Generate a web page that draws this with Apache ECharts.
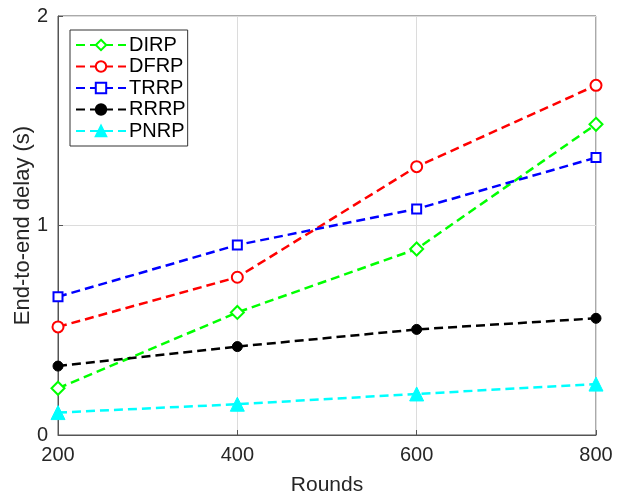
<!DOCTYPE html>
<html><head><meta charset="utf-8">
<script src="https://cdn.jsdelivr.net/npm/echarts@6/dist/echarts.min.js"></script>
<style>html,body{margin:0;padding:0;background:#fff}#c{width:619px;height:495px}</style>
</head><body><div id="c"></div>
<script>
const rounds = [200, 400, 600, 800];
const DIRP = [0.223, 0.585, 0.888, 1.483];
const DFRP = [0.516, 0.753, 1.281, 1.669];
const TRRP = [0.660, 0.907, 1.079, 1.324];
const RRRP = [0.329, 0.422, 0.504, 0.557];
const PNRP = [0.107, 0.147, 0.196, 0.243];
const yTicks = [0, 1, 2];

const chart = echarts.init(document.getElementById('c'));
const font = 'Liberation Sans, Arial, Helvetica, sans-serif';
function mk(name, data, color, symbol, size, filled) {
  return {
    name, type: 'line',
    data: rounds.map((r, i) => [r, data[i]]),
    symbol, symbolSize: size,
    lineStyle: { color, width: 2.5, type: [9, 5] },
    itemStyle: filled ? { color, borderColor: color, borderWidth: 1 } : { color: color, borderColor: color, borderWidth: 2.2 },
    color,
    animation: false, z: 3
  };
}
chart.setOption({
  animation: false,
  backgroundColor: '#fff',
  grid: { left: 58, right: 23, top: 16, bottom: 60, containLabel: false, outerBoundsMode: 'none', show: true, borderColor: '#555', borderWidth: 1 },
  xAxis: {
    type: 'value', min: 200, max: 800, interval: 200,
    name: 'Rounds', nameLocation: 'middle', nameGap: 40, nameMoveOverlap: false,
    nameTextStyle: { fontFamily: font, fontSize: 21, color: '#262626' },
    axisLine: { lineStyle: { color: '#555' } },
    axisTick: { inside: true, length: 5, lineStyle: { color: '#555' } },
    axisLabel: { fontFamily: font, fontSize: 20, color: '#262626', margin: 10 },
    splitLine: { show: true, lineStyle: { color: '#dcdcdc' } }
  },
  yAxis: {
    type: 'value', min: 0, max: 2, interval: 1,
    name: 'End-to-end delay (s)', nameLocation: 'middle', nameGap: 24, nameMoveOverlap: false,
    nameTextStyle: { fontFamily: font, fontSize: 22, color: '#262626' },
    axisLine: { show: true, lineStyle: { color: '#555' } },
    axisTick: { show: true, inside: true, length: 5, lineStyle: { color: '#555' } },
    axisLabel: { fontFamily: font, fontSize: 20, color: '#262626', margin: 10, formatter: v => yTicks.includes(v) ? String(v) : '' },
    splitLine: { show: true, lineStyle: { color: '#dcdcdc' } }
  },
  legend: {
    orient: 'vertical', left: 70, top: 30,
    backgroundColor: '#fff', borderColor: '#333', borderWidth: 1,
    padding: [5, 2, 5, 5], itemGap: 1.5, itemWidth: 50, itemHeight: 13,
    textStyle: { fontFamily: font, fontSize: 20, color: '#000', padding: [0, 0, 0, -2] },
    data: ['DIRP', 'DFRP', 'TRRP', 'RRRP', 'PNRP']
  },
  series: [
    mk('DIRP', DIRP, '#00ff00', 'emptyDiamond', 13, false),
    mk('DFRP', DFRP, '#ff0000', 'emptyCircle', 11, false),
    mk('TRRP', TRRP, '#0000ff', 'emptyRect', 9, false),
    mk('RRRP', RRRP, '#000000', 'circle', 10, true),
    mk('PNRP', PNRP, '#00ffff', 'triangle', 14, true)
  ]
});
</script></body></html>
